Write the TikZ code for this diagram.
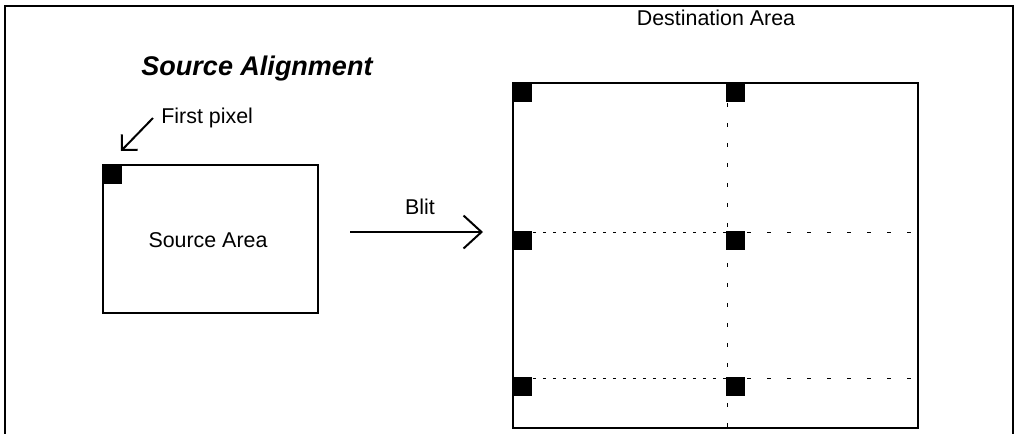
\documentclass[tikz,border=0pt]{standalone}
\usepackage{fontspec}
\setmainfont{Liberation Sans}
\usetikzlibrary{arrows.meta}

\tikzset{
  lbl/.style={inner sep=0pt, font=\fontsize{10.7}{12}\selectfont},
  gridline/.style={line width=0.5pt, dash pattern=on 2pt off 8pt},
  gridfine/.style={line width=0.5pt, dash pattern=on 1.5pt off 3.5pt},
}

\begin{document}
\begin{tikzpicture}[x=0.5pt, y=-0.5pt]
		\useasboundingbox (0,0) rectangle (1019,434);
		
		% outer frame (open at the bottom)
		\draw[line width=1pt] (5,434) -- (5,6) -- (1013,6) -- (1013,434);
		
		% titles
		\node[lbl, font=\fontsize{13.5}{15}\bfseries\itshape\selectfont] (title) at (257,69) {Source Alignment};
		\node[lbl] (dtitle) at (716,18) {Destination Area};
		
		% source area
		\draw[line width=1pt] (103,165) rectangle (318,313);
		\fill (103,165) rectangle (122,184);
		\node[lbl] (src) at (208,240) {Source Area};
		
		% first pixel pointer
		\node[lbl, anchor=west] (first) at (161,118) {First pixel};
		\coordinate (fpx) at (121,151);
		\draw[line width=1pt, -{Straight Barb[length=5.5pt, width=11pt]}] (first.west) ++(-8,0) -- (fpx);
		
		% blit arrow
		\node[lbl] (blit) at (420,207) {Blit};
		\coordinate (bfrom) at (350,232);
		\coordinate (bto) at (483,232);
		\draw[line width=1pt, -{Straight Barb[length=9pt, width=16.5pt]}] (bfrom) -- (bto);
		
		% destination area
		\draw[line width=1pt] (513,83) rectangle (918,428);
		\draw[gridline] (727,83) -- (727,428);
		\foreach \y in {232,378}{
		    \draw[gridfine] (513,\y) -- (727,\y);
		    \draw[gridline] (727,\y) -- (918,\y);
		}
		
		% first pixels of each copy
		\foreach \x in {513,726}{
		    \foreach \y in {83,231,377}{
		        \fill (\x,\y) rectangle ++(19,19);
		    }
		}
	\end{tikzpicture}
\end{document}
